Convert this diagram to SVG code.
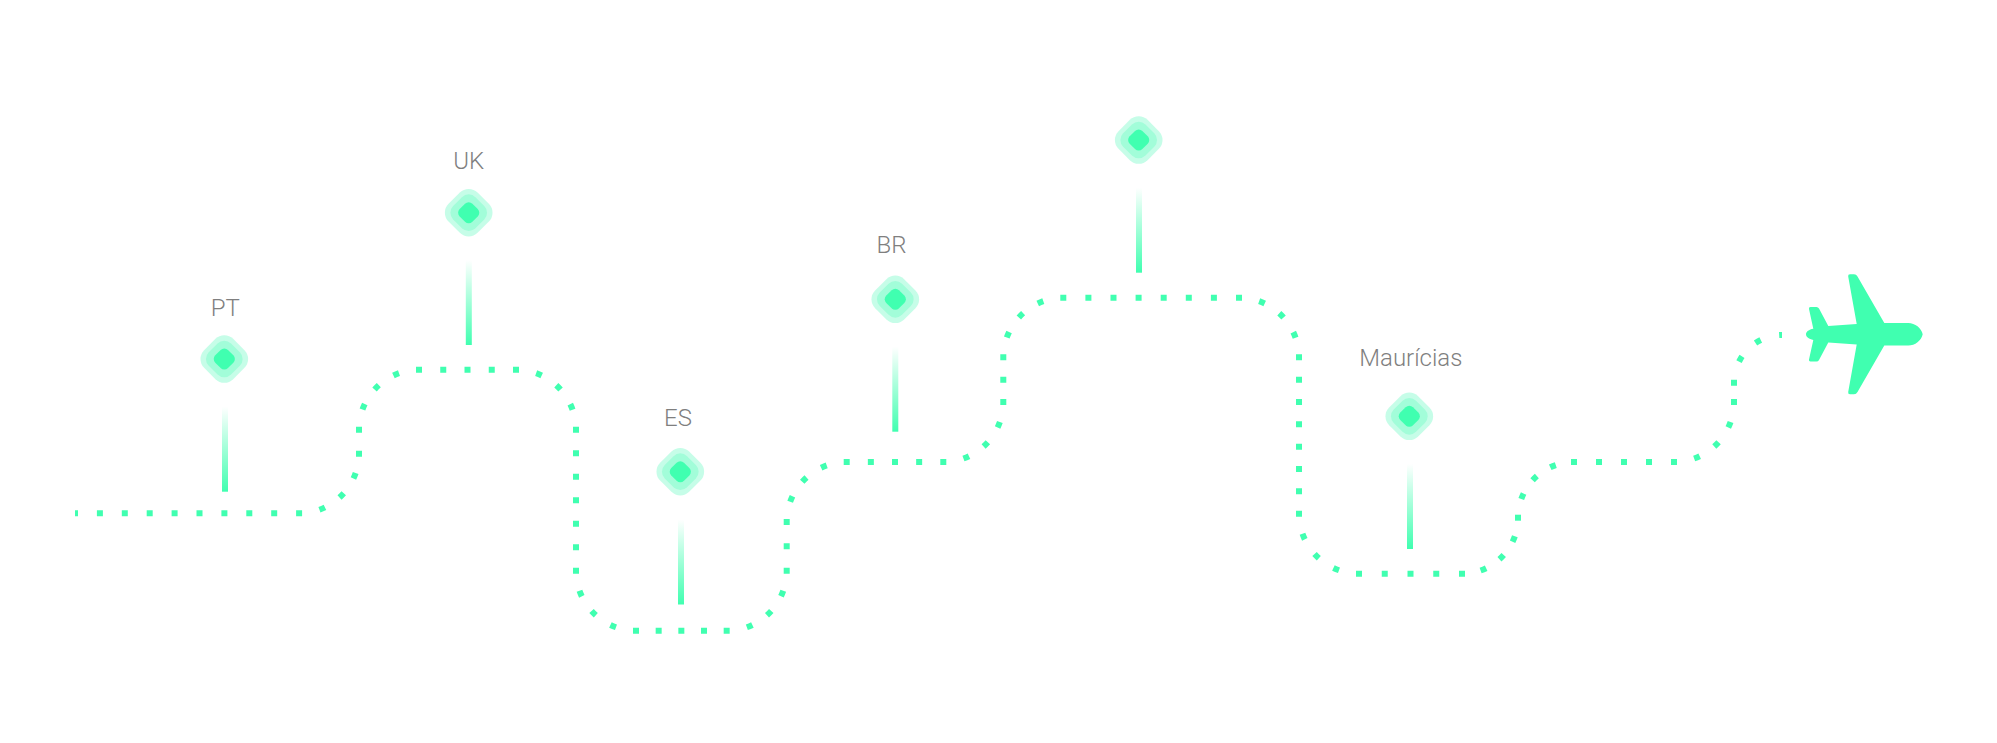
<svg xmlns="http://www.w3.org/2000/svg" xmlns:xlink="http://www.w3.org/1999/xlink" width="1997" height="743" viewBox="0 0 1997 743">
<style>
.d{fill:none;stroke:#40ffb0;stroke-width:6}
.a60{stroke-dasharray:0 20.56 6 17.56 6 17.56 6 100}
.a56{stroke-dasharray:0 18.99 6 15.99 6 15.99 6 100}
.a48{stroke-dasharray:0 22.13 6 19.13 6 19.13 6 100}
.o1{fill:#c6fde8}
.o2{fill:#a2fdd9}
.i{fill:#40ffb0}
.s{fill:url(#fade)}
text{font-family:"Roboto","Liberation Sans",sans-serif;font-weight:300;font-size:24px;fill:#7f7f7f;text-anchor:middle}
</style>
<defs>
<linearGradient id="fade" x1="0" y1="0" x2="0" y2="1"><stop offset="0" stop-color="#40ffb0" stop-opacity="0"/><stop offset="1" stop-color="#40ffb0"/></linearGradient>
<g id="pin">
<rect class="o1" x="-20.5" y="-20.5" width="41" height="41" rx="12.5" transform="rotate(45)"/>
<rect class="o2" x="-15.75" y="-15.75" width="31.5" height="31.5" rx="9.5" transform="rotate(45)"/>
<rect class="i" x="-9" y="-9" width="18" height="18" rx="5.2" transform="rotate(45)"/>
</g>
</defs>
<rect width="1997" height="743" fill="#fff"/>
<g id="connectors">
<path class="d" style="stroke-dasharray:6 18.9;stroke-dashoffset:3" d="M75 513.3H302.3"/>
<path class="d a60" d="M299.3 513.3A60 60 0 0 0 359 453.7"/>
<path class="d" style="stroke-dasharray:6 18" d="M359 456.7V426.7"/>
<path class="d a60" d="M359 429.7A60 60 0 0 1 419 369.7"/>
<path class="d" style="stroke-dasharray:6 18.25" d="M416 369.7H519"/>
<path class="d a60" d="M516 369.7A60 60 0 0 1 576 429.7"/>
<path class="d" style="stroke-dasharray:6 17.5" d="M576 426.7V573.7"/>
<path class="d a60" d="M576 570.7A60 60 0 0 0 636 630.7"/>
<path class="d" style="stroke-dasharray:6 16.67" d="M633 630.7H729.7"/>
<path class="d a60" d="M726.7 630.7A60 60 0 0 0 786.7 570.7"/>
<path class="d" style="stroke-dasharray:6 18.35" d="M786.7 573.7V519"/>
<path class="d a60" d="M786.7 522A60 60 0 0 1 846.7 462"/>
<path class="d" style="stroke-dasharray:6 18.15" d="M843.7 462H946.3"/>
<path class="d a60" d="M943.3 462A60 60 0 0 0 1003.3 402"/>
<path class="d" style="stroke-dasharray:6 16.35" d="M1003.3 405V354.3"/>
<path class="d a60" d="M1003.3 357.7A60 60 0 0 1 1063.3 297.7"/>
<path class="d" style="stroke-dasharray:6 19.1" d="M1060.3 297.7H1242"/>
<path class="d a60" d="M1239 297.7A60 60 0 0 1 1299 357.7"/>
<path class="d" style="stroke-dasharray:6 16.34" d="M1299 354.3V516.7"/>
<path class="d a60" d="M1299 513.7A60 60 0 0 0 1359 573.7"/>
<path class="d" style="stroke-dasharray:6 19.75" d="M1356 573.7H1465"/>
<path class="d a56" d="M1462 573.7A56 56 0 0 0 1518 517.7"/>
<path class="d" d="M1518 520.7V514.7"/>
<path class="d a56" d="M1518 517.7A56 56 0 0 1 1574 462"/>
<path class="d" style="stroke-dasharray:6 19" d="M1571 462H1677"/>
<path class="d a60" d="M1674 462A60 60 0 0 0 1734 402"/>
<path class="d" style="stroke-dasharray:6 13.3" d="M1734 405V379.7"/>
<path class="d a48" d="M1734 383A48 48 0 0 1 1782 335"/>
</g>
<g id="node-pt"><text x="225.2" y="316">PT</text><use xlink:href="#pin" href="#pin" x="224.3" y="359"/><rect class="s" x="222" y="406.7" width="6" height="85"/></g>
<g id="node-uk"><text x="468.7" y="169.3">UK</text><use xlink:href="#pin" href="#pin" x="468.7" y="212.7"/><rect class="s" x="465.8" y="260" width="6" height="85"/></g>
<g id="node-es"><text x="678" y="426">ES</text><use xlink:href="#pin" href="#pin" x="680.3" y="471.7"/><rect class="s" x="678" y="519.5" width="6" height="85"/></g>
<g id="node-br"><text x="891.5" y="253.4">BR</text><use xlink:href="#pin" href="#pin" x="895.3" y="299.3"/><rect class="s" x="892.3" y="346.7" width="6" height="85"/></g>
<g id="node-top"><use xlink:href="#pin" href="#pin" x="1138.7" y="140"/><rect class="s" x="1136" y="187.7" width="6" height="85"/></g>
<g id="node-mauricias"><text x="1410.8" y="365.7">Maurícias</text><use xlink:href="#pin" href="#pin" x="1409.3" y="416.3"/><rect class="s" x="1407" y="464" width="6" height="85"/></g>
<g id="node-plane"><path class="i" d="M1922.7 334.3C1921.5 328 1915 323 1908.3 323H1884.3L1857.5 276.5Q1856.3 274.3 1854 274.3H1850Q1847.8 274.3 1848.2 276.5L1856.7 324L1828.3 326L1819 308.5Q1818.2 307 1816.5 307H1810.5Q1808.5 307 1809 309L1813.3 328.7C1809 329.5 1806 331.5 1806 334.3C1806 337 1809 339 1813.3 339.9L1809 359.6Q1808.5 361.6 1810.5 361.6H1816.5Q1818.2 361.6 1819 360.1L1828.3 342.6L1856.7 344.6L1848.2 392.1Q1847.8 394.3 1850 394.3H1854Q1856.3 394.3 1857.5 392.1L1884.3 345.6H1908.3C1915 345.6 1921.5 340.6 1922.7 334.3Z"/></g>
</svg>
